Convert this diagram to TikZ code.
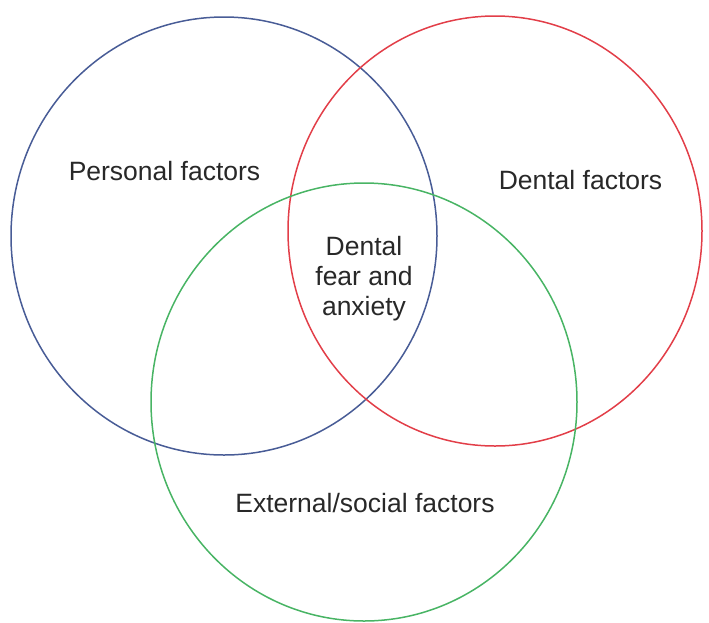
\documentclass[tikz,border=0pt]{standalone}
\usepackage{fontspec}
\setmainfont{Liberation Sans}
\usepackage{tikz}

\definecolor{persblue}{RGB}{72,92,150}
\definecolor{dentred}{RGB}{226,62,72}
\definecolor{socgreen}{RGB}{72,180,100}
\definecolor{txtgray}{RGB}{40,40,40}

\tikzset{
  setring/.style={line width=1.5pt},
  setlabel/.style={anchor=base, inner sep=0pt, text=txtgray,
    font=\fontsize{26.5}{30}\selectfont},
}

\begin{document}
\begin{tikzpicture}[x=1pt,y=-1pt]
\useasboundingbox (0,0) rectangle (709,622);
\draw[setring, persblue] (224,236) ellipse [x radius=213, y radius=219];
\draw[setring, dentred] (495,231) ellipse [x radius=207, y radius=215];
\draw[setring, socgreen] (364,402) ellipse [x radius=213, y radius=219];
\node[setlabel] (personal) at (164.5,180) {Personal factors};
\node[setlabel] (dental) at (580.5,189) {Dental factors};
\node[setlabel] (social) at (365,512) {External/social factors};
\node[setlabel, align=center, anchor=north] (fear) at (364,236)
  {Dental\\fear and\\anxiety};
\end{tikzpicture}
\end{document}
